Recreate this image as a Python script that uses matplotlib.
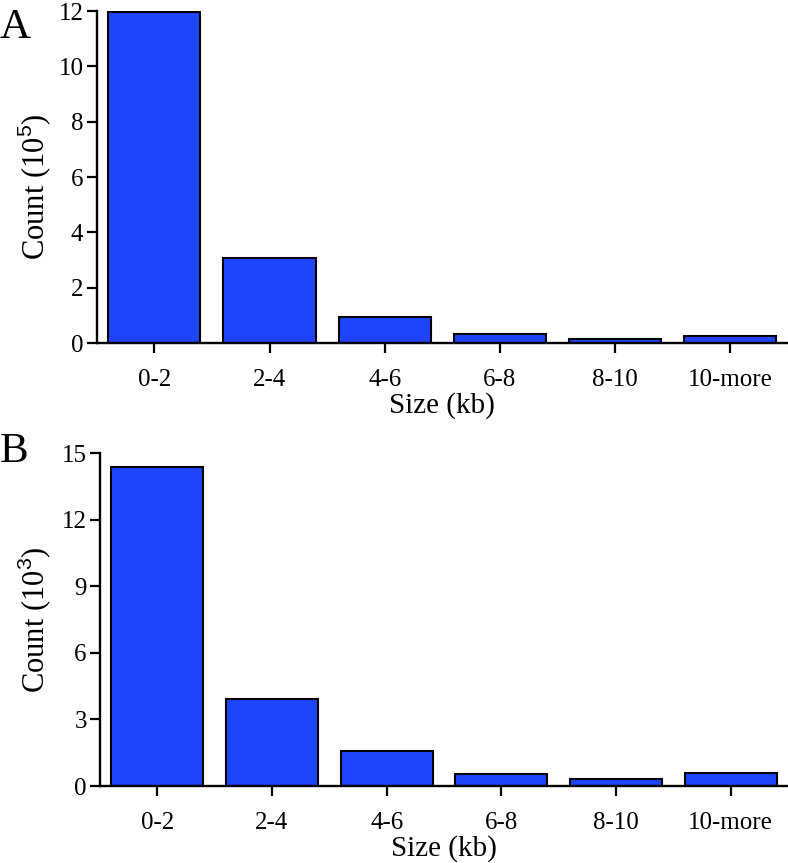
import matplotlib
matplotlib.use('Agg')
import matplotlib.pyplot as plt
import numpy as np

plt.rcParams['font.family'] = ['Liberation Serif', 'DejaVu Serif']
plt.rcParams['mathtext.fontset'] = 'custom'
plt.rcParams['mathtext.rm'] = 'Liberation Serif'
plt.rcParams['mathtext.sf'] = 'Liberation Sans'

# size bins (kb)
size_bins = ['0-2', '2-4', '4-6', '6-8', '8-10', '10-more']

# panel A counts, in units of 10^5
counts_a = [11.95, 3.06, 0.95, 0.34, 0.13, 0.27]
# panel B counts, in units of 10^3
counts_b = [14.37, 3.94, 1.59, 0.54, 0.30, 0.57]

bar_color = '#1f45fa'

fig = plt.figure(figsize=(7.88, 8.63), dpi=100)
ax_a = fig.add_axes([0.1227, 0.6025, 0.8773, 0.3847])
ax_b = fig.add_axes([0.1269, 0.0892, 0.8731, 0.3855])


def style_panel(ax, counts, ymax, yticks, exponent, label_xy):
    x = np.arange(len(size_bins))
    ax.bar(x, counts, width=0.8, color=bar_color, edgecolor='black', linewidth=1.5)
    ax.set_xlim(-0.5, len(size_bins) - 0.5)
    ax.set_ylim(0, ymax)
    ax.set_yticks(yticks)
    ax.set_xticks(x)
    ax.set_xticklabels(size_bins)
    ax.spines['top'].set_visible(False)
    ax.spines['right'].set_visible(False)
    for s in ['left', 'bottom']:
        ax.spines[s].set_linewidth(1.7)
    ax.tick_params(axis='both', length=7.5, width=1.6, labelsize=18)
    ax.tick_params(axis='y', pad=2)
    ax.tick_params(axis='x', pad=11)
    ax.set_xlabel('Size (kb)', fontsize=21, labelpad=1)
    ax.set_ylabel(r'Count (10$^{\mathsf{%d}}$)' % exponent, fontsize=22)
    ax.yaxis.set_label_coords(*label_xy)


style_panel(ax_a, counts_a, 12, [0, 2, 4, 6, 8, 10, 12], 5, (-0.063, 0.47))
style_panel(ax_b, counts_b, 15, [0, 3, 6, 9, 12, 15], 3, (-0.068, 0.50))

# panel letters
fig.text(0.0, 1 - 8 / 863, 'A', fontsize=31, ha='left', va='top')
fig.text(0.0, 1 - 433 / 863, 'B', fontsize=31, ha='left', va='top')

fig.savefig('out.png', dpi=100)
